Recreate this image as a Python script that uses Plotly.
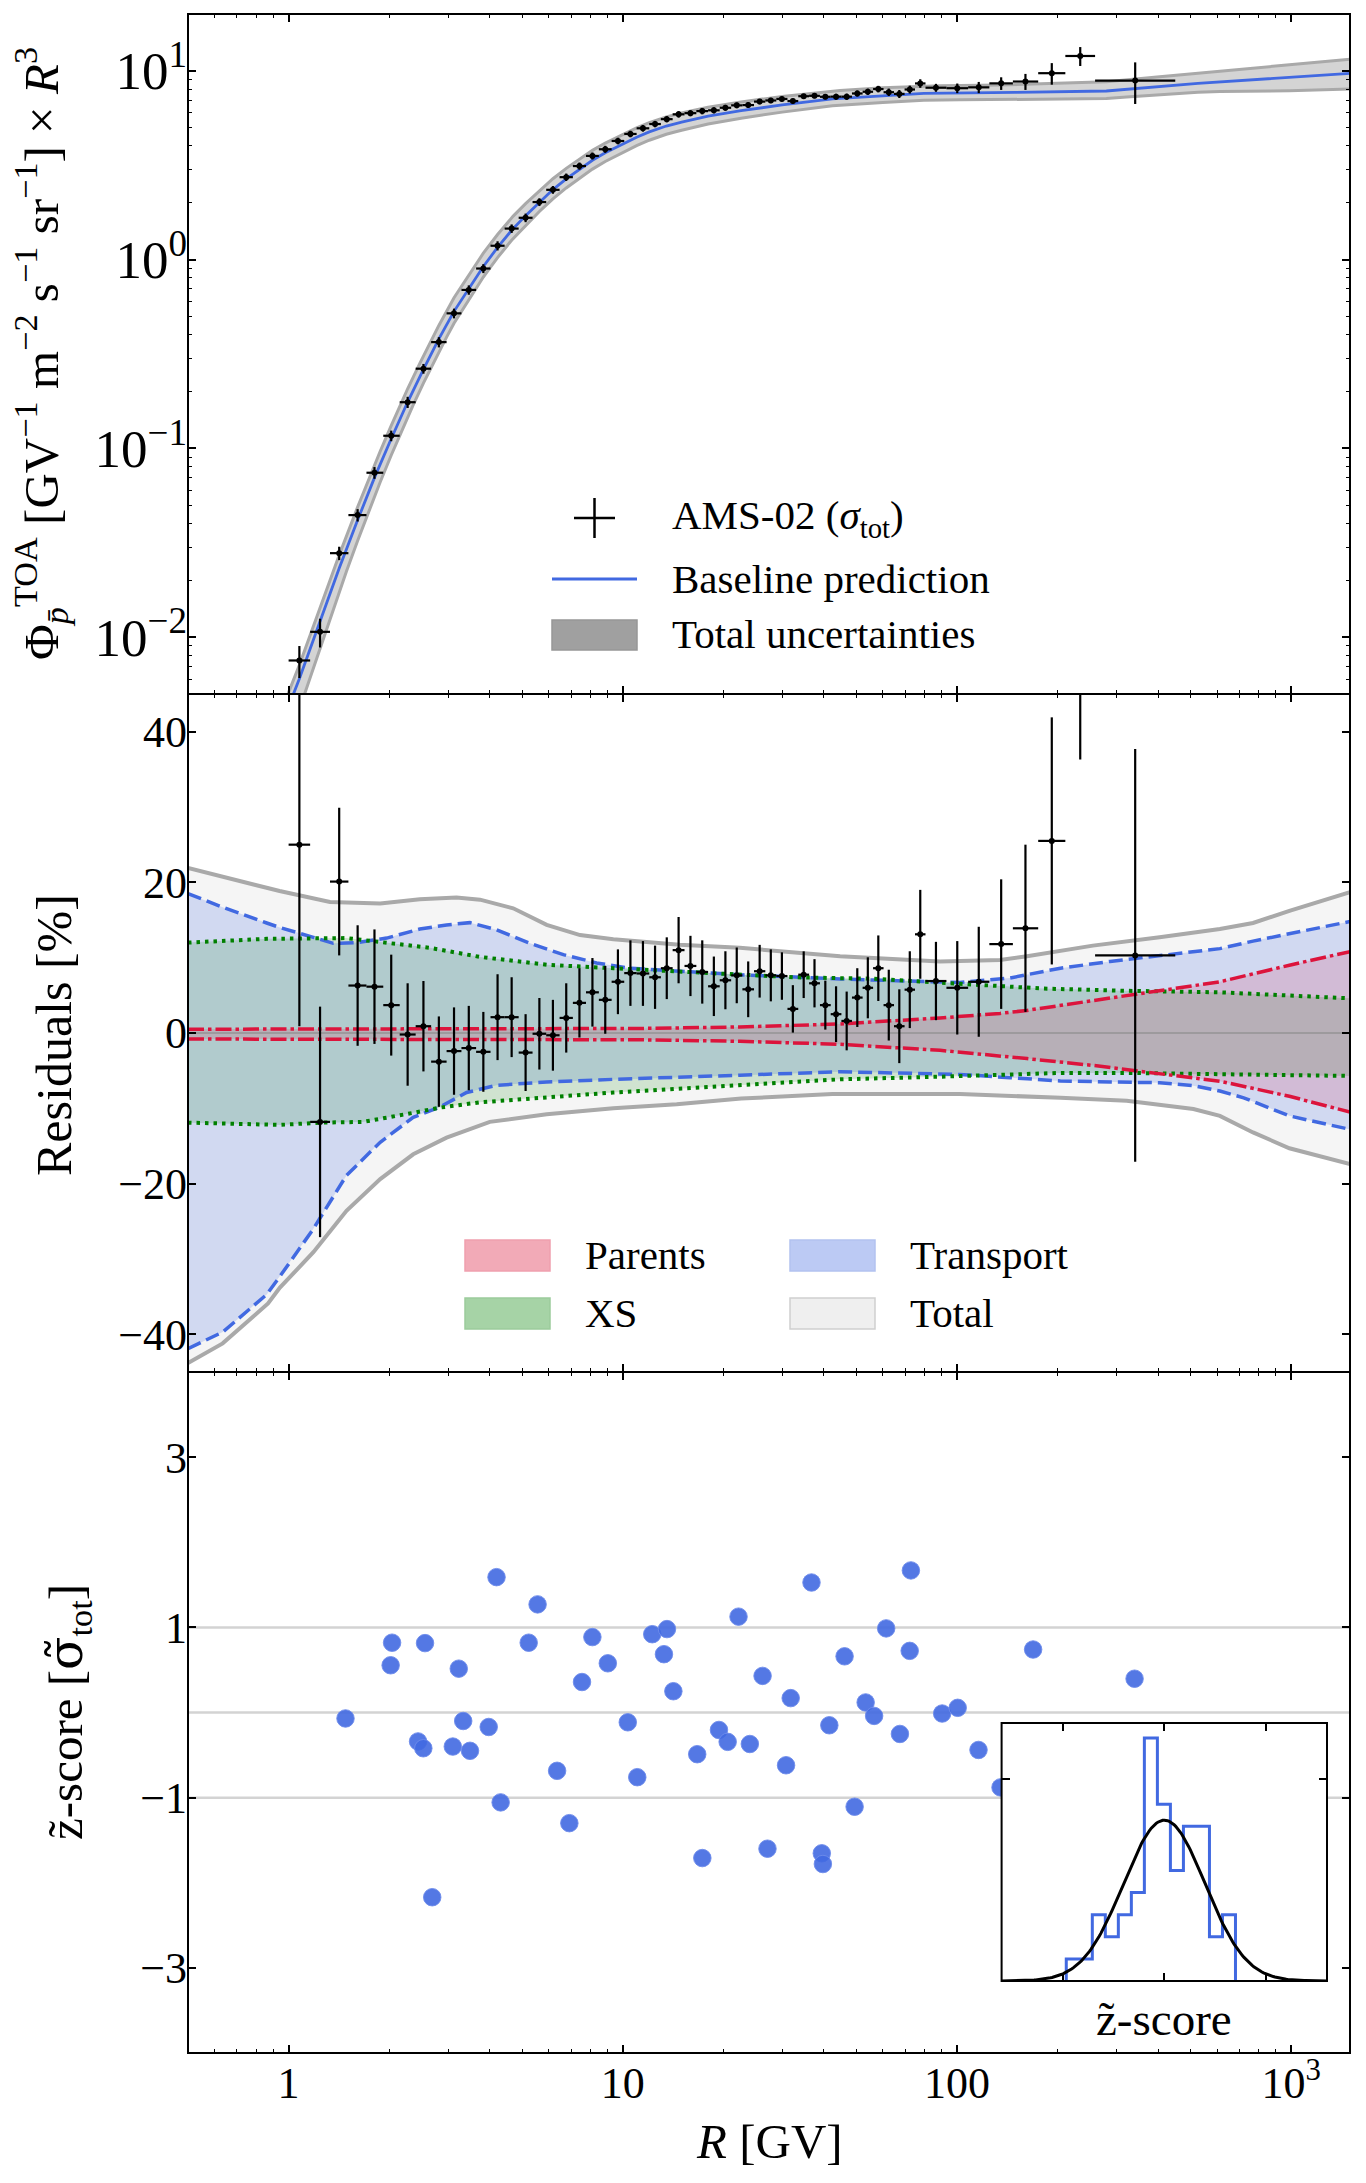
import numpy as np
import plotly.graph_objects as go
from plotly.subplots import make_subplots

# ---------------- data ----------------
bin_edges = [1.00, 1.16, 1.33, 1.51, 1.71, 1.92, 2.15, 2.40, 2.67, 2.97, 3.29, 3.64, 4.02, 4.43,
             4.88, 5.37, 5.90, 6.47, 7.09, 7.76, 8.48, 9.26, 10.1, 11.0, 12.0, 13.0, 14.1, 15.3,
             16.6, 18.0, 19.5, 21.1, 22.8, 24.7, 26.7, 28.8, 31.1, 33.5, 36.1, 38.9, 41.9, 45.1,
             48.5, 52.2, 56.1, 60.3, 64.8, 69.7, 74.9, 80.5, 93.0, 108, 125, 147, 175, 211, 259, 450]
R_data = [1.077, 1.242, 1.417, 1.609, 1.807, 2.028, 2.271, 2.532, 2.816, 3.126, 3.461, 3.826,
          4.220, 4.650, 5.119, 5.629, 6.179, 6.773, 7.418, 8.113, 8.862, 9.671, 10.54, 11.49,
          12.49, 13.54, 14.69, 15.94, 17.29, 18.73, 20.28, 21.93, 23.73, 25.68, 27.73, 29.93,
          32.28, 34.78, 37.47, 40.37, 43.47, 46.77, 50.32, 54.11, 58.16, 62.51, 67.21, 72.25,
          77.65, 86.52, 100.2, 116.2, 135.6, 160.3, 192.2, 233.8, 341.4]
residual_pct = [25.0, -11.8, 20.1, 6.3, 6.15, 3.7, -0.2, 0.9, -3.8, -2.4,
                -2.0, -2.5, 2.1, 2.1, -2.6, -0.1, -0.3, 2.0, 4.0, 5.4,
                4.4, 6.8, 7.95, 7.9, 7.4, 8.6, 11.0, 8.9, 8.1, 6.2,
                7.0, 7.65, 5.8, 8.2, 7.65, 7.56, 3.2, 7.74, 6.6, 3.7,
                2.5, 1.6, 4.7, 6.0, 8.6, 3.7, 0.9, 5.75, 13.1, 6.9,
                6.0, 6.8, 11.8, 13.9, 25.5, 54.0, 10.3]
residual_err = [24.1, 15.3, 9.8, 8.0, 7.6, 6.7, 6.8, 6.0, 6.0, 5.8,
                5.6, 5.3, 5.7, 5.3, 5.1, 4.75, 4.7, 4.6, 4.6, 4.55,
                4.5, 4.3, 4.35, 4.3, 4.2, 4.1, 4.4, 4.0, 4.2, 3.95,
                3.85, 3.7, 3.7, 3.5, 3.45, 3.15, 3.15, 3.1, 3.2, 3.25,
                3.7, 3.9, 3.9, 4.05, 4.35, 4.7, 4.9, 5.1, 5.9, 5.2,
                6.2, 7.3, 8.6, 11.1, 16.4, 17.7, 27.4]

# baseline prediction (Phi x R^3)
R_model = [0.9, 1.0, 1.077, 1.242, 1.417, 1.609, 1.807, 2.028, 2.271, 2.532, 2.816, 3.126, 3.461,
           3.826, 4.22, 4.65, 5.119, 5.629, 6.179, 6.773, 7.418, 8.113, 8.862, 10.0, 11.0, 12.0,
           13.5, 15.0, 18.0, 22.6, 30.0, 42.4, 60.0, 79.6, 149, 280, 526, 988, 1500]
phi_model = [0.0025, 0.0043, 0.00602, 0.0121, 0.0232, 0.0417, 0.0700, 0.1125, 0.176, 0.262, 0.380,
             0.532, 0.705, 0.920, 1.16, 1.43, 1.71, 2.02, 2.35, 2.68, 3.01, 3.36, 3.68, 4.10, 4.45,
             4.75, 5.10, 5.35, 5.75, 6.15, 6.60, 7.10, 7.40, 7.60, 7.69, 7.82, 8.58, 9.26, 9.7]

# uncertainty envelopes [%]
R_tot_up = [0.5, 0.74, 0.94, 1.33, 1.88, 2.47, 3.18, 3.74, 4.7, 5.92, 7.45, 9.37, 14.8, 22.4, 44.7,
            89, 134.5, 162, 255, 404, 612, 769, 988, 1500]
tot_up = [21.9, 20.0, 18.85, 17.4, 17.2, 17.75, 18.0, 17.7, 16.55, 14.35, 13.0, 12.45, 11.7, 11.3,
          10.2, 9.5, 9.7, 10.2, 11.6, 12.7, 13.8, 14.6, 16.2, 18.7]
R_tot_lo = [0.5, 0.635, 0.868, 0.942, 1.186, 1.49, 1.88, 2.36, 2.97, 4.0, 5.92, 9.37, 14.5, 22.6,
            42.4, 79.6, 102, 204, 322, 510, 612, 769, 988, 1500]
tot_lo = [-43.8, -41.2, -35.9, -33.8, -29.1, -23.6, -19.4, -16.1, -13.9, -11.8, -10.8, -10.0, -9.46,
          -8.7, -8.1, -8.1, -8.1, -8.6, -9.0, -10.1, -11.0, -13.2, -15.3, -17.4]
R_tr_up = [0.5, 0.635, 0.86, 0.942, 1.186, 1.36, 1.60, 1.966, 2.47, 2.97, 3.49, 4.19, 5.28, 6.64,
           8.35, 10.5, 14.8, 22.4, 44.7, 89, 102, 144, 204, 287, 404, 612, 769, 1500]
tr_up = [18.5, 16.7, 14.6, 14.0, 12.7, 11.9, 12.0, 12.6, 13.8, 14.35, 14.65, 13.7, 11.9, 10.4, 9.3,
         8.6, 8.2, 7.74, 7.17, 6.7, 6.7, 7.3, 8.6, 9.5, 10.25, 11.2, 12.2, 14.8]
R_tr_lo = [0.5, 0.635, 0.86, 0.942, 1.186, 1.49, 1.88, 2.36, 2.84, 3.41, 4.19, 5.92, 9.37, 14.5,
           22.4, 44.7, 89, 102, 144, 204, 287, 404, 510, 612, 721, 988, 1500]
tr_lo = [-41.9, -39.7, -34.7, -32.3, -26.0, -18.9, -14.5, -11.2, -9.8, -7.9, -6.94, -6.5, -6.15,
         -5.93, -5.6, -5.14, -5.36, -5.5, -5.93, -6.37, -6.5, -6.6, -7.0, -7.7, -8.6, -11.0, -12.8]
R_xs_up = [0.5, 0.86, 1.49, 2.01, 2.65, 3.74, 5.92, 9.37, 14.8, 32.4, 56.2, 128, 181, 322, 612, 1500]
xs_up = [12.0, 12.5, 12.6, 11.9, 11.3, 10.1, 9.06, 8.6, 8.2, 7.4, 7.2, 6.3, 5.9, 5.6, 5.4, 4.6]
R_xs_lo = [0.5, 0.942, 1.24, 1.67, 2.36, 2.84, 3.74, 5.92, 9.37, 14.5, 22.4, 44.7, 89, 128, 204,
           322, 612, 1500]
xs_lo = [-11.9, -12.2, -11.9, -11.8, -10.6, -9.9, -9.2, -8.5, -7.9, -7.4, -6.9, -6.15, -5.8, -5.6,
         -5.3, -5.3, -5.5, -5.7]
R_par = [0.5, 5.0, 11.25, 22.4, 44.7, 89, 134.5, 162, 255, 404, 612, 988, 1500]
par_up = [0.5, 0.5, 0.6, 0.8, 1.2, 2.0, 2.6, 3.0, 4.3, 5.6, 6.8, 9.0, 10.8]
par_lo = [-0.8, -0.85, -0.9, -1.1, -1.5, -2.3, -3.0, -3.4, -4.3, -5.4, -6.4, -8.4, -10.5]

# decorrelated z-scores
R_z = [1.48, 2.04, 2.02, 2.56, 2.44, 2.53, 2.69, 3.23, 3.10, 3.33, 3.49, 3.97, 4.19, 4.31, 5.23,
       5.56, 6.36, 6.92, 7.55, 8.11, 9.02, 10.35, 11.05, 12.25, 13.56, 13.28, 14.17, 16.7, 17.3,
       19.4, 20.6, 22.2, 24.0, 26.2, 27.1, 30.8, 31.8, 36.7, 41.5, 39.4, 39.7, 46.1, 49.4, 53.3,
       56.5, 61.4, 67.5, 72.2, 72.8, 90.3, 100.5, 116, 135, 169, 192, 234, 340]
z_score = [-0.07, 0.82, 0.555, 0.815, -0.34, -0.42, -2.17, 0.515, -0.40, -0.10, -0.45, -0.17, 1.59,
           -1.056, 0.82, 1.27, -0.685, -1.30, 0.358, 0.886, 0.578, -0.115, -0.76, 0.92, 0.98,
           0.685, 0.25, -0.49, -1.71, -0.205, -0.345, 1.126, -0.37, 0.43, -1.60, -0.62, 0.169,
           1.527, -0.15, -1.654, -1.78, 0.66, -1.107, 0.118, -0.04, 0.988, -0.252, 0.724, 1.669,
           -0.012, 0.055, -0.44, -0.88, 0.74, -0.30, -0.95, 0.397]

# inset histogram of z-scores
hist_start = -2.41
hist_width = 0.32
hist_counts = [1, 1, 3, 2, 3, 4, 11, 8, 5, 7, 7, 2, 3]

# ---------------- helpers ----------------
def loglog_interp(xq, x, y):
    return 10 ** np.interp(np.log10(xq), np.log10(x), np.log10(y))

def logx_interp(xq, x, y):
    return np.interp(np.log10(xq), np.log10(x), y)

R_data_a = np.array(R_data)
res_a = np.array(residual_pct)
err_a = np.array(residual_err)
edges_a = np.array(bin_edges)
lo_edge = edges_a[:-1]
hi_edge = edges_a[1:]

model_at_data = loglog_interp(R_data_a, R_model, phi_model)
flux = model_at_data * (1 + res_a / 100)
flux_err = model_at_data * err_a / 100

# ---------------- geometry ----------------
W, H = 1366, 2183
ML, MR, MT, MB = 188, 16, 14, 130
PW = W - ML - MR
PH = H - MT - MB

def px(xp):
    return (xp - ML) / PW

def py(yp):
    return (H - MB - yp) / PH

FONT = "Liberation Serif"
BLUE = "royalblue"

fig = make_subplots(rows=3, cols=1, shared_xaxes=True, vertical_spacing=0)

# ---- top panel ----
Rb_up = np.union1d(R_model, R_tot_up)
Rb_lo = np.union1d(R_model, R_tot_lo)
band_up = loglog_interp(Rb_up, R_model, phi_model) * (1 + logx_interp(Rb_up, R_tot_up, tot_up) / 100)
band_lo = loglog_interp(Rb_lo, R_model, phi_model) * (1 + logx_interp(Rb_lo, R_tot_lo, tot_lo) / 100)
fig.add_trace(go.Scatter(x=np.concatenate([Rb_up, Rb_lo[::-1]]),
                         y=np.concatenate([band_up, band_lo[::-1]]),
                         fill="toself", fillcolor="rgba(169,169,169,0.5)",
                         line=dict(width=0), mode="lines", hoverinfo="skip", showlegend=False),
              row=1, col=1)
for yy, xx in ((band_up, Rb_up), (band_lo, Rb_lo)):
    fig.add_trace(go.Scatter(x=xx, y=yy, mode="lines", line=dict(color="darkgrey", width=3),
                             showlegend=False), row=1, col=1)
fig.add_trace(go.Scatter(x=R_model, y=phi_model, mode="lines", line=dict(color=BLUE, width=2.8),
                         showlegend=False), row=1, col=1)
fig.add_trace(go.Scatter(x=R_data_a, y=flux, mode="markers", marker=dict(size=0, color="black"),
                         error_x=dict(type="data", symmetric=False, array=hi_edge - R_data_a,
                                      arrayminus=R_data_a - lo_edge, width=0, thickness=2.2,
                                      color="black"),
                         error_y=dict(type="data", array=flux_err, width=0, thickness=2.2,
                                      color="black"),
                         showlegend=False), row=1, col=1)

# ---- middle panel ----
def band(Rup, up, Rlo, lo):
    return (np.concatenate([Rup, np.array(Rlo)[::-1]]),
            np.concatenate([up, np.array(lo)[::-1]]))

for (Rup, up, Rlo, lo, fc) in (
        (R_tot_up, tot_up, R_tot_lo, tot_lo, "rgb(245,245,245)"),
        (R_tr_up, tr_up, R_tr_lo, tr_lo, "rgba(65,105,225,0.2)"),
        (R_xs_up, xs_up, R_xs_lo, xs_lo, "rgba(0,128,0,0.15)"),
        (R_par, par_up, R_par, par_lo, "rgba(220,20,60,0.15)")):
    bx, by = band(Rup, up, Rlo, lo)
    fig.add_trace(go.Scatter(x=bx, y=by, fill="toself", fillcolor=fc, line=dict(width=0),
                             mode="lines", hoverinfo="skip", showlegend=False), row=2, col=1)

fig.add_trace(go.Scatter(x=[0.5, 1500], y=[0, 0], mode="lines",
                         line=dict(color="rgba(140,140,140,0.6)", width=2), showlegend=False),
              row=2, col=1)
for (xx, yy, col, dash, wd) in (
        (R_tot_up, tot_up, "darkgrey", "solid", 4), (R_tot_lo, tot_lo, "darkgrey", "solid", 4),
        (R_tr_up, tr_up, BLUE, "14px,6px", 3.5), (R_tr_lo, tr_lo, BLUE, "14px,6px", 3.5),
        (R_xs_up, xs_up, "green", "3.5px,5px", 4), (R_xs_lo, xs_lo, "green", "3.5px,5px", 4),
        (R_par, par_up, "crimson", "16px,4px,3.5px,4px", 3.5),
        (R_par, par_lo, "crimson", "16px,4px,3.5px,4px", 3.5)):
    fig.add_trace(go.Scatter(x=xx, y=yy, mode="lines", line=dict(color=col, dash=dash, width=wd),
                             showlegend=False), row=2, col=1)

fig.add_trace(go.Scatter(x=R_data_a, y=res_a, mode="markers", marker=dict(size=0, color="black"),
                         error_x=dict(type="data", symmetric=False, array=hi_edge - R_data_a,
                                      arrayminus=R_data_a - lo_edge, width=0, thickness=2.2,
                                      color="black"),
                         error_y=dict(type="data", array=err_a, width=0, thickness=2.2,
                                      color="black"),
                         showlegend=False), row=2, col=1)

# ---- bottom panel ----
for lvl in (-1, 0, 1):
    fig.add_trace(go.Scatter(x=[0.5, 1500], y=[lvl, lvl], mode="lines",
                             line=dict(color="lightgrey", width=2.5), showlegend=False),
                  row=3, col=1)
fig.add_trace(go.Scatter(x=R_z, y=z_score, mode="markers",
                         marker=dict(size=17.5, color="rgba(65,105,225,0.9)",
                                     line=dict(color="rgba(110,140,235,0.9)", width=1)),
                         showlegend=False), row=3, col=1)

# ---- inset ----
fig.add_trace(go.Scatter(x=[-4, 4, 4, -4, -4], y=[0, 0, 0.64, 0.64, 0], fill="toself",
                         fillcolor="white", line=dict(width=0), mode="lines",
                         hoverinfo="skip", showlegend=False, xaxis="x4", yaxis="y4"))
n_pts = len(R_data)
h_edges = hist_start + hist_width * np.arange(len(hist_counts) + 1)
density = np.array(hist_counts) / (n_pts * hist_width)
step_x = np.concatenate([[h_edges[0]], h_edges[:-1], [h_edges[-1]]])
step_y = np.concatenate([[0], density, [0]])
fig.add_trace(go.Scatter(x=step_x, y=step_y, mode="lines", line=dict(color=BLUE, width=3, shape="hv"),
                         showlegend=False, xaxis="x4", yaxis="y4"))
gx = np.linspace(-4, 4, 201)
fig.add_trace(go.Scatter(x=gx, y=np.exp(-gx ** 2 / 2) / np.sqrt(2 * np.pi), mode="lines",
                         line=dict(color="black", width=3), showlegend=False,
                         xaxis="x4", yaxis="y4"))

# ---------------- axes ----------------
axis_common = dict(showline=False, mirror="allticks",
                   ticks="inside", ticklen=8, tickwidth=1.6, tickcolor="black",
                   showgrid=False, zeroline=False)
tick_font = dict(family=FONT, size=44, color="black")
x_minor = [0.6, 0.7, 0.8, 0.9] + [m * d for d in (1, 10, 100) for m in range(2, 10)]
for i in (1, 2, 3):
    fig.update_xaxes(type="log", range=[np.log10(0.5), np.log10(1500)],
                     tickmode="array", tickvals=[1, 10, 100, 1000],
                     ticktext=["1", "10", "100", "10<sup>3</sup>"],
                     showticklabels=(i == 3), tickfont=tick_font,
                     minor=dict(ticks="inside", ticklen=4, tickwidth=1.2, tickcolor="black",
                                tickmode="array", tickvals=x_minor, showgrid=False),
                     row=i, col=1, **axis_common)

y_minor = [m * d for d in (0.001, 0.01, 0.1, 1) for m in range(2, 10) if m * d > 0.0055]
fig.update_yaxes(type="log", range=[np.log10(0.005), np.log10(20)], tickmode="array",
                 tickvals=[0.01, 0.1, 1, 10],
                 ticktext=["10<sup>\u22122</sup>", "10<sup>\u22121</sup>", "10<sup>0</sup>", "10<sup>1</sup>"],
                 tickfont=dict(family=FONT, size=53, color="black"),
                 minor=dict(ticks="inside", ticklen=4, tickwidth=1.2, tickcolor="black",
                            tickmode="array", tickvals=y_minor, showgrid=False),
                 row=1, col=1, **axis_common)
fig.update_yaxes(range=[-45, 45], tickmode="array", tickvals=[-40, -20, 0, 20, 40],
                 ticktext=["\u221240", "\u221220", "0", "20", "40"], tickfont=tick_font,
                 row=2, col=1, **axis_common)
fig.update_yaxes(range=[-4, 4], tickmode="array", tickvals=[-3, -1, 1, 3],
                 ticktext=["\u22123", "\u22121", "1", "3"], tickfont=tick_font,
                 row=3, col=1, **axis_common)

inset_x0, inset_x1, inset_y0, inset_y1 = px(1001.6), px(1327), py(1981), py(1723)
fig.update_layout(
    yaxis=dict(domain=[py(694), 1.0]),
    yaxis2=dict(domain=[py(1372), py(694)]),
    yaxis3=dict(domain=[0.0, py(1372)]),
    xaxis4=dict(domain=[inset_x0, inset_x1], anchor="y4", range=[-4, 4], tickmode="array",
                tickvals=[-2.5, 0, 2.5], showticklabels=False, showline=False,
                mirror="allticks", ticks="inside", ticklen=8, tickwidth=1.6,
                tickcolor="black", showgrid=False, zeroline=False),
    yaxis4=dict(domain=[inset_y0, inset_y1], anchor="x4", range=[0, 0.64], tickmode="array",
                tickvals=[0.5], showticklabels=False, showline=False,
                mirror="allticks", ticks="inside", ticklen=8, tickwidth=1.6,
                tickcolor="black", showgrid=False, zeroline=False),
)

# ---------------- titles & legends (text) ----------------
ann = []
def add_text(text, xpx, ypx, size, angle=0, xanchor="center"):
    ann.append(dict(text=text, x=px(xpx), y=py(ypx), xref="paper", yref="paper",
                    showarrow=False, textangle=angle, xanchor=xanchor, yanchor="middle",
                    font=dict(family=FONT, size=size, color="black")))

add_text("\u03a6<sub><i>p\u0304</i></sub><sup>TOA</sup> [GV<sup>\u22121</sup> m<sup>\u22122</sup> "
         "s<sup>\u22121</sup> sr<sup>\u22121</sup>] \u00d7 <i>R</i><sup>3</sup>", 40, 354, 49, -90)
add_text("Residuals [%]", 54, 1035, 50, -90)
add_text("z\u0303-score [<span style=\"font-family:'DejaVu Serif'\">\u03c3\u0303</span>"
         "<sub>tot</sub>]", 68, 1712, 49, -90)
add_text("<i>R</i> [GV]", 769, 2141, 49)
add_text("z\u0303-score", 1164, 2019, 47)

add_text("AMS-02 (<i>\u03c3</i><sub>tot</sub>)", 670, 518, 41, xanchor="left")
add_text("Baseline prediction", 670, 579, 41, xanchor="left")
add_text("Total uncertainties", 670, 634, 41, xanchor="left")
add_text("Parents", 583, 1255, 41, xanchor="left")
add_text("XS", 583, 1313, 41, xanchor="left")
add_text("Transport", 908, 1255, 41, xanchor="left")
add_text("Total", 908, 1313, 41, xanchor="left")

shapes = []
def pline(x0, y0, x1, y1, color, width):
    shapes.append(dict(type="line", xref="paper", yref="paper", x0=px(x0), y0=py(y0),
                       x1=px(x1), y1=py(y1), line=dict(color=color, width=width)))

def prect(x0, y0, x1, y1, fill, edge):
    shapes.append(dict(type="rect", xref="paper", yref="paper", x0=px(x0), y0=py(y1),
                       x1=px(x1), y1=py(y0), fillcolor=fill, line=dict(color=edge, width=1.5)))

def frame(x0, x1, y0, y1):
    shapes.append(dict(type="rect", xref="paper", yref="paper", x0=x0, x1=x1, y0=y0, y1=y1,
                       fillcolor="rgba(0,0,0,0)", line=dict(color="black", width=2),
                       layer="above"))

# panel frames (axis spines)
frame(0, 1, py(694), 1)
frame(0, 1, py(1372), py(694))
frame(0, 1, 0, py(1372))
frame(inset_x0, inset_x1, inset_y0, inset_y1)

pline(574, 518, 615, 518, "black", 2.5)
pline(594.5, 498, 594.5, 538, "black", 2.5)
pline(552, 579, 637, 579, BLUE, 2.8)
prect(552, 620, 637, 650, "rgb(160,160,160)", "rgb(150,150,150)")
prect(465, 1240, 550, 1271, "rgb(242,170,183)", "rgb(240,160,175)")
prect(465, 1298, 550, 1329, "rgb(166,211,166)", "rgb(156,204,156)")
prect(790, 1240, 875, 1271, "rgb(188,202,244)", "rgb(178,194,240)")
prect(790, 1298, 875, 1329, "rgb(239,239,239)", "rgb(208,208,208)")

fig.update_layout(width=W, height=H, margin=dict(l=ML, r=MR, t=MT, b=MB),
                  plot_bgcolor="white", paper_bgcolor="white", showlegend=False,
                  annotations=ann, shapes=shapes,
                  font=dict(family=FONT, color="black"))

fig.write_html("out.html")
